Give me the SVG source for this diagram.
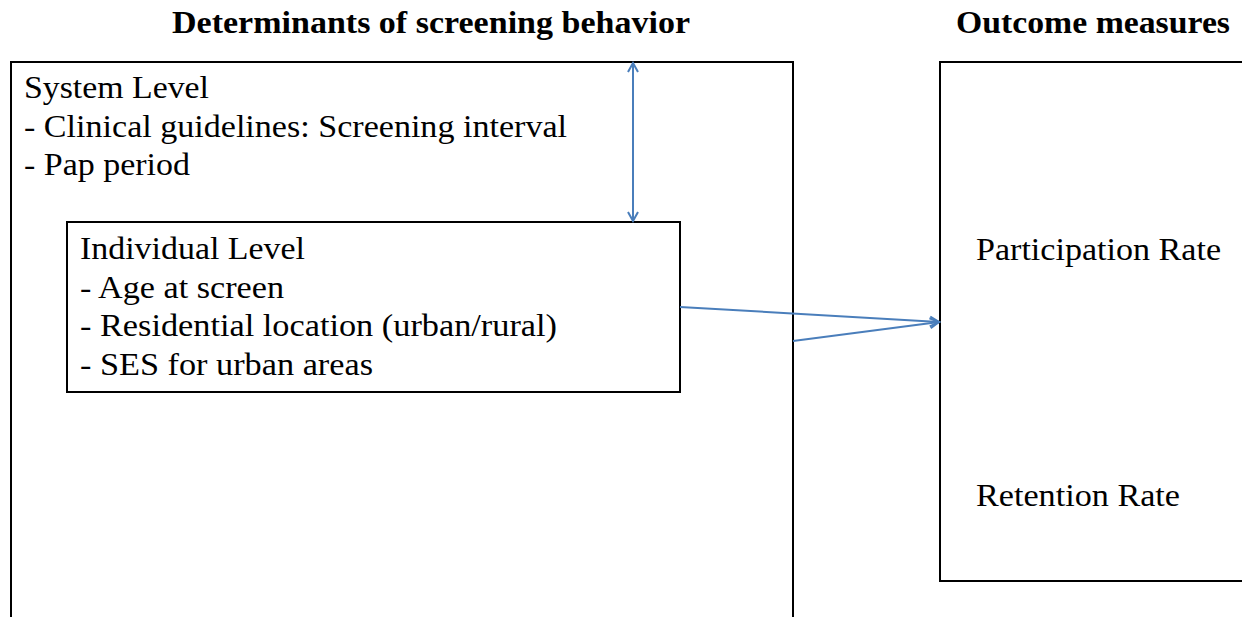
<svg xmlns="http://www.w3.org/2000/svg" width="1242" height="617" viewBox="0 0 1242 617">
<style>
.box{fill:#fff;stroke:#000;stroke-width:2}
.t{font-family:"Liberation Serif",serif;font-size:31px;fill:#000}
.h{font-family:"Liberation Serif",serif;font-size:32px;font-weight:bold;fill:#000}
.c{stroke:#4a7ebb;stroke-width:2;fill:none}
</style>
<defs>
<marker id="a" markerWidth="12" markerHeight="12" refX="10" refY="6" orient="auto-start-reverse" markerUnits="userSpaceOnUse">
<path d="M1,1 L10,6 L1,11" fill="none" stroke="#4a7ebb" stroke-width="2"/>
</marker>
</defs>
<rect width="1242" height="617" fill="#fff"/>
<text class="h" x="172" y="33" textLength="518" lengthAdjust="spacingAndGlyphs">Determinants of screening behavior</text>
<text class="h" x="956" y="33" textLength="274" lengthAdjust="spacingAndGlyphs">Outcome measures</text>
<g id="system">
<rect class="box" x="11" y="62" width="782" height="570"/>
<text class="t" x="24" y="98" textLength="185" lengthAdjust="spacingAndGlyphs">System Level</text>
<text class="t" x="24" y="137" textLength="543" lengthAdjust="spacingAndGlyphs">- Clinical guidelines: Screening interval</text>
<text class="t" x="24" y="175" textLength="166" lengthAdjust="spacingAndGlyphs">- Pap period</text>
</g>
<g id="individual">
<rect class="box" x="67" y="222" width="613" height="170"/>
<text class="t" x="80" y="259" textLength="225" lengthAdjust="spacingAndGlyphs">Individual Level</text>
<text class="t" x="80" y="298" textLength="204" lengthAdjust="spacingAndGlyphs">- Age at screen</text>
<text class="t" x="80" y="336" textLength="477" lengthAdjust="spacingAndGlyphs">- Residential location (urban/rural)</text>
<text class="t" x="80" y="375" textLength="293" lengthAdjust="spacingAndGlyphs">- SES for urban areas</text>
</g>
<g id="outcome">
<rect class="box" x="940" y="62" width="320" height="519"/>
<text class="t" x="976" y="260" textLength="245" lengthAdjust="spacingAndGlyphs">Participation Rate</text>
<text class="t" x="976" y="506" textLength="204" lengthAdjust="spacingAndGlyphs">Retention Rate</text>
</g>
<g id="connectors">
<line class="c" x1="633" y1="63" x2="633" y2="221" marker-start="url(#a)" marker-end="url(#a)"/>
<line class="c" x1="680" y1="307" x2="939" y2="322" marker-end="url(#a)"/>
<line class="c" x1="793" y1="341" x2="939" y2="322" marker-end="url(#a)"/>
</g>
</svg>
